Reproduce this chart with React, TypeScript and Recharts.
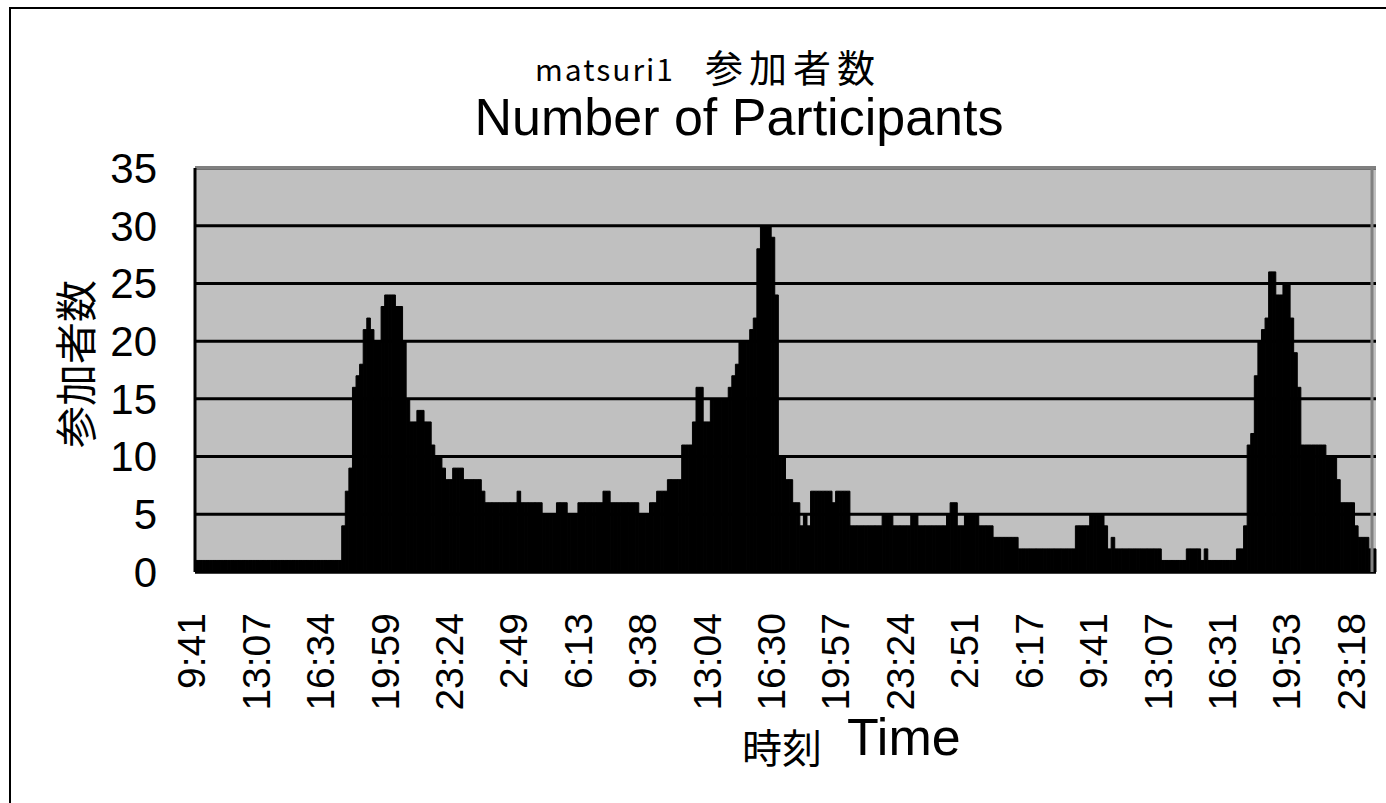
import React from 'react';
import { BarChart, Bar, XAxis, YAxis, CartesianGrid, ReferenceLine } from 'recharts';

// participants per sample, one row = one labelled time step (18 samples)
const participants: number[] = [
  1, 1, 1, 1, 1, 1, 1, 1, 1, 1, 1, 1, 1, 1, 1, 1, 1, 1,
  1, 1, 1, 1, 1, 1, 1, 1, 1, 1, 1, 1, 1, 1, 1, 1, 1, 1,
  1, 1, 1, 1, 1, 4, 7, 9, 16, 17, 18, 21, 22, 21, 20, 20, 23, 24,
  24, 24, 23, 23, 20, 15, 13, 13, 14, 14, 13, 13, 11, 10, 10, 9, 8, 8,
  9, 9, 9, 8, 8, 8, 8, 8, 7, 6, 6, 6, 6, 6, 6, 6, 6, 6,
  7, 6, 6, 6, 6, 6, 6, 5, 5, 5, 5, 6, 6, 6, 5, 5, 5, 6,
  6, 6, 6, 6, 6, 6, 7, 7, 6, 6, 6, 6, 6, 6, 6, 6, 5, 5,
  5, 6, 6, 7, 7, 7, 8, 8, 8, 8, 11, 11, 11, 13, 16, 16, 13, 13,
  15, 15, 15, 15, 15, 16, 17, 18, 20, 20, 20, 21, 22, 28, 30, 30, 30, 29,
  24, 10, 10, 8, 8, 6, 6, 4, 5, 4, 7, 7, 7, 7, 7, 7, 6, 7,
  7, 7, 7, 4, 4, 4, 4, 4, 4, 4, 4, 4, 5, 5, 5, 4, 4, 4,
  4, 4, 5, 5, 4, 4, 4, 4, 4, 4, 4, 4, 5, 6, 6, 4, 4, 5,
  5, 5, 5, 4, 4, 4, 4, 3, 3, 3, 3, 3, 3, 3, 2, 2, 2, 2,
  2, 2, 2, 2, 2, 2, 2, 2, 2, 2, 2, 2, 4, 4, 4, 4, 5, 5,
  5, 5, 4, 2, 3, 2, 2, 2, 2, 2, 2, 2, 2, 2, 2, 2, 2, 2,
  1, 1, 1, 1, 1, 1, 1, 2, 2, 2, 2, 1, 2, 1, 1, 1, 1, 1,
  1, 1, 1, 2, 2, 4, 11, 12, 17, 20, 21, 22, 26, 26, 24, 24, 25, 25,
  22, 19, 16, 11, 11, 11, 11, 11, 11, 11, 10, 10, 10, 8, 6, 6, 6, 6,
  4, 3, 3, 3, 2, 2,
];

// one label every 18 samples
const timeLabels: string[] = [
  '9:41', '13:07', '16:34', '19:59', '23:24', '2:49', '6:13', '9:38', '13:04', '16:30',
  '19:57', '23:24', '2:51', '6:17', '9:41', '13:07', '16:31', '19:53', '23:18',
];
const labelStep = 18;

const yTicks = [0, 5, 10, 15, 20, 25, 30, 35];

const data = participants.map((v, i) => ({ idx: i, count: v }));

const W = 1386;
const H = 803;
const plotLeft = 195;
const plotTop = 168;
const plotBottom = 572;
const plotWidth = 1181;
const band = plotWidth / participants.length;

const latin = "'Liberation Sans', Arial, sans-serif";
const cjk = "'Noto Sans CJK JP', 'Noto Sans CJK SC', sans-serif";

const TimeTick = (props: any) => {
  const { x, y, payload } = props;
  const label = timeLabels[payload.value / labelStep];
  if (label === undefined) return null;
  const tx = x - 5;
  const ty = y + 41;
  return (
    <text
      x={tx}
      y={ty}
      transform={`rotate(-90 ${tx} ${ty})`}
      textAnchor="end"
      dominantBaseline="central"
      fontFamily={latin}
      fontSize={39}
      fill="#000"
    >
      {label}
    </text>
  );
};

export default function App() {
  const yAxisW = 60;
  const xAxisH = 60;
  return (
    <div style={{ position: 'absolute', left: 0, top: 0, width: W, height: H, background: '#fff', overflow: 'hidden' }}>
      <div style={{ position: 'absolute', left: 9, top: 7, width: 1500, height: 1000, border: '2px solid #000' }} />
      <div style={{ position: 'absolute', left: 0, top: 0 }}>
        <BarChart
          width={W}
          height={H}
          data={data}
          margin={{ top: plotTop, right: W - plotLeft - plotWidth, left: plotLeft - yAxisW, bottom: H - plotBottom - xAxisH }}
          barCategoryGap={0}
          barGap={0}
        >
          <CartesianGrid vertical={false} stroke="#000" strokeWidth={3} fill="#c0c0c0" strokeOpacity={1} />
          <XAxis
            dataKey="idx"
            type="category"
            interval={labelStep - 1}
            height={xAxisH}
            tick={<TimeTick />}
            tickLine={false}
            tickSize={0}
            tickMargin={0}
            axisLine={{ stroke: '#000', strokeWidth: 3 }}
          />
          <YAxis
            width={yAxisW}
            domain={[0, 35]}
            ticks={yTicks}
            interval={0}
            tickLine={false}
            tickSize={38}
            tickMargin={0}
            axisLine={{ stroke: '#000', strokeWidth: 3 }}
            tick={{ fill: '#000', fontSize: 42, fontFamily: latin }}
          />
          <ReferenceLine y={35} stroke="#808080" strokeWidth={3} />
          <Bar
            dataKey="count"
            fill="#000"
            stroke="#000"
            strokeWidth={1}
            barSize={band - 0.001}
            isAnimationActive={false}
          />
        </BarChart>
      </div>
      <svg width={W} height={H} style={{ position: 'absolute', left: 0, top: 0, pointerEvents: 'none' }}>
        <line x1={1372} y1={166.5} x2={1372} y2={572} stroke="#808080" strokeWidth={3} />
        <text x={535} y={81} fontFamily={cjk} fontSize={30} letterSpacing={2} fill="#000">matsuri1</text>
        <text x={705} y={82} fontFamily={cjk} fontSize={38} letterSpacing={6} fill="#000">参加者数</text>
        <text x={739} y={135} textAnchor="middle" fontFamily={latin} fontSize={52} fill="#000">
          Number of Participants
        </text>
        <text
          x={73}
          y={364}
          transform="rotate(-90 73 364)"
          textAnchor="middle"
          dominantBaseline="central"
          fontFamily={cjk}
          fontSize={42}
          fill="#000"
        >
          参加者数
        </text>
        <text x={742} y={763} fontFamily={cjk} fontSize={40} fill="#000">時刻</text>
        <text x={847} y={755} fontFamily={latin} fontSize={52} fill="#000">Time</text>
      </svg>
    </div>
  );
}
